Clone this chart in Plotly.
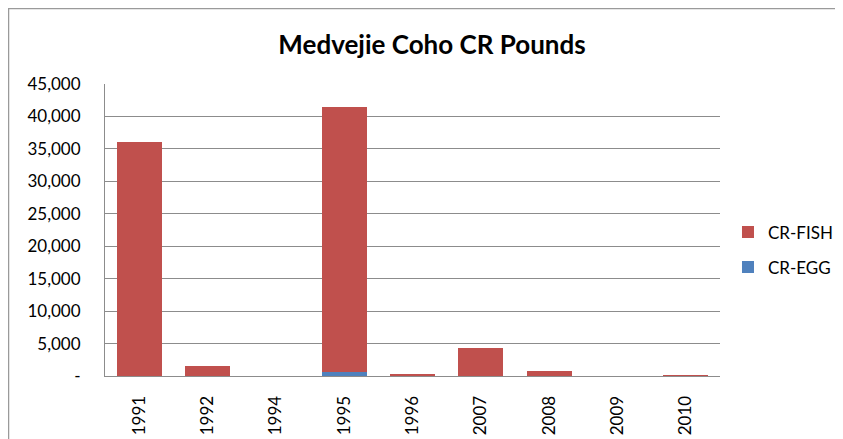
import plotly.graph_objects as go

years = ["1991", "1992", "1994", "1995", "1996", "2007", "2008", "2009", "2010"]
cr_egg = [0, 0, 0, 650, 120, 0, 0, 0, 0]
cr_fish = [36000, 1500, 0, 40750, 60, 4300, 800, 0, 100]
ytick_vals = [0, 5000, 10000, 15000, 20000, 25000, 30000, 35000, 40000, 45000]
ytick_text = ["-", "5,000", "10,000", "15,000", "20,000", "25,000", "30,000", "35,000", "40,000", "45,000"]

fig = go.Figure()
fig.add_trace(go.Bar(x=years, y=cr_egg, name="CR-EGG", legendgroup="egg", legendrank=2,
                     marker=dict(color="#4F81BD", line=dict(width=0))))
fig.add_trace(go.Bar(x=years, y=cr_fish, name="CR-FISH", legendgroup="fish", legendrank=1,
                     marker=dict(color="#C0504D", line=dict(width=0))))

fig.update_layout(
    barmode="stack",
    bargap=0.34,
    width=843, height=439,
    margin=dict(l=97, r=131, t=76, b=71),
    paper_bgcolor="white", plot_bgcolor="white",
    font=dict(family="Lato, Open Sans, sans-serif", size=17, color="black"),
    title=dict(text="<b>Medvejie Coho CR Pounds</b>", x=0.503, xanchor="center", y=0.916, yanchor="middle",
               font=dict(size=26, family="Lato, Open Sans, sans-serif")),
    legend=dict(x=1.013, y=0.432, xanchor="left", yanchor="middle", traceorder="grouped",
                font=dict(size=17), tracegroupgap=10, itemwidth=30),
    showlegend=True,
)
fig.update_yaxes(range=[0, 45000], tickvals=ytick_vals, ticktext=ytick_text,
                 showgrid=True, gridcolor="#8C8C8C", gridwidth=1,
                 showline=True, linecolor="#8C8C8C", linewidth=1, ticks="", zeroline=False,
                 ticklabelstandoff=20)
fig.update_xaxes(type="category", tickangle=-90, showline=True, linecolor="#8C8C8C", linewidth=1,
                 ticks="", ticklabelstandoff=12)
fig.add_shape(type="path", xref="paper", yref="paper",
              path="M -0.1569 -0.5 L -0.1569 1.2586 L 1.6 1.2586",
              line=dict(color="#9A9A9A", width=1.5))
fig.write_html("out.html")
